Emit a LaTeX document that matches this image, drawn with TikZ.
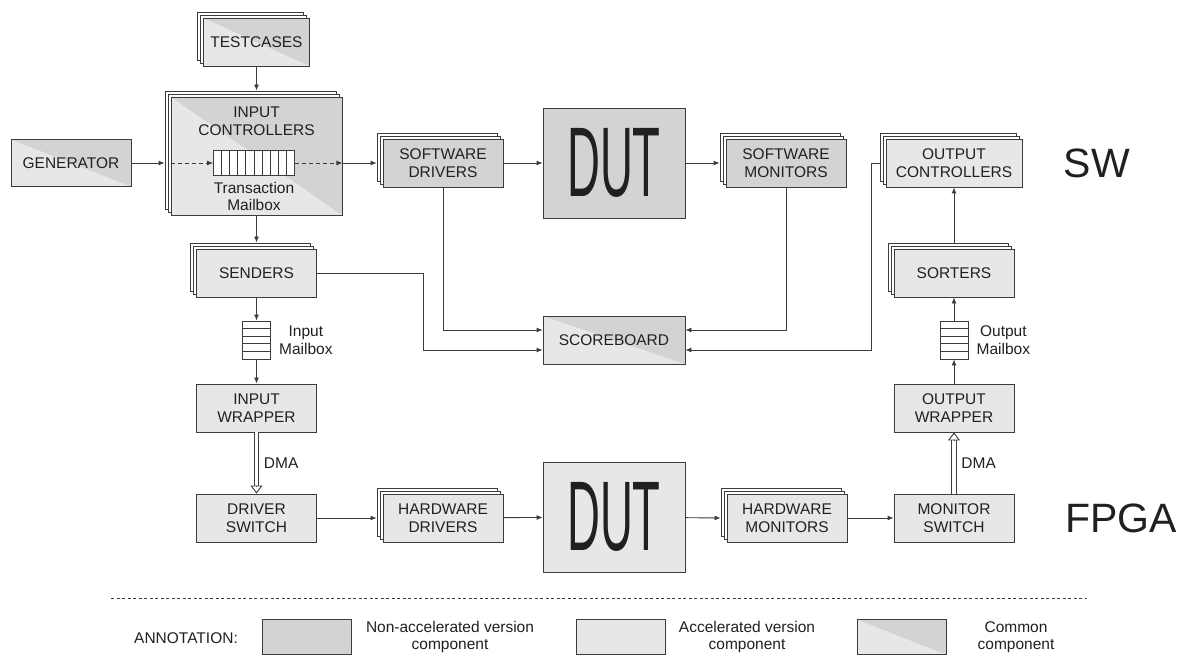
\documentclass[tikz,border=0pt]{standalone}
\usepackage{fontspec}
\setmainfont{Liberation Sans}
\usepackage{graphicx}
\usetikzlibrary{arrows.meta,positioning,calc,shadows}
\definecolor{nacc}{RGB}{209,211,212}
\definecolor{acc}{RGB}{230,231,232}
\definecolor{edge}{RGB}{60,60,60}
\definecolor{ink}{RGB}{35,31,32}
\newcommand{\boxfont}{\fontsize{15.5}{17.5}\selectfont}
\newcommand{\dutfont}{\fontsize{99}{99}\selectfont}
\newcommand{\bigfont}{\fontsize{41}{41}\selectfont}

\begin{document}
\begin{tikzpicture}[x=1pt, y=-1pt, >={Latex[length=6pt,width=5pt]},
    every node/.style={text=ink},
    box/.style={draw=edge, line width=0.9pt, minimum width=120pt, minimum height=48pt, inner sep=0pt, align=center, font=\boxfont},
    nonacc/.style={box, fill=nacc},
    accel/.style={box, fill=acc},
    common/.style={box, fill=acc, path picture={\fill[nacc] (path picture bounding box.north west) -- (path picture bounding box.north east) -- (path picture bounding box.south east) -- cycle;}},
    stack/.style={general shadow={shadow xshift=-6pt, shadow yshift=6pt, fill=white, draw=edge, line width=0.9pt},
                  general shadow={shadow xshift=-3pt, shadow yshift=3pt, fill=white, draw=edge, line width=0.9pt}},
    hqueue/.style={draw=edge, line width=0.9pt, fill=white, minimum width=28pt, minimum height=38pt, inner sep=0pt,
        path picture={\foreach \k in {1,...,4} \draw[edge, line width=0.9pt] ($(path picture bounding box.north west)!\k/5!(path picture bounding box.south west)$) -- ($(path picture bounding box.north east)!\k/5!(path picture bounding box.south east)$);}},
    vqueue/.style={draw=edge, line width=0.9pt, fill=white, minimum width=81pt, minimum height=25pt, inner sep=0pt,
        path picture={\foreach \k in {1,...,9} \draw[edge, line width=0.9pt] ($(path picture bounding box.north west)!\k/10!(path picture bounding box.north east)$) -- ($(path picture bounding box.south west)!\k/10!(path picture bounding box.south east)$);}},
    txt/.style={font=\boxfont, align=center, inner sep=0pt},
    link/.style={draw=edge, line width=0.9pt},
    dmashaft/.style={draw=edge, line width=0.9pt, double=white, double distance=3.5pt, shorten >=8pt},
    dmahead/.style={draw=edge, line width=0.9pt, -{Triangle[open, length=8pt, width=12pt]}},
    legendbox/.style={minimum width=89pt, minimum height=35pt}]
    \useasboundingbox (0,0) rectangle (1189,655);

    % software side
    \node[common, stack, minimum width=106pt] (testcases) at (256.5,42) {TESTCASES};
    \node[common, stack, minimum width=171pt, minimum height=118pt] (inctrl) at (256.5,156) {};
    \node[txt, below=10.5pt of inctrl.north] (inctrltxt) {INPUT\\CONTROLLERS};
    \node[vqueue] (tmbox) at (254,163) {};
    \node[txt, below=6pt of tmbox] (tmboxtxt) {Transaction\\Mailbox};
    \node[common, minimum height=47pt] (gen) at (71,163) {GENERATOR};
    \node[nonacc, stack] (swdrv) at (443,163) {SOFTWARE\\DRIVERS};
    \node[nonacc, minimum width=142pt, minimum height=110pt, font=\dutfont] (swdut) at (614,163) {\scalebox{0.46}[1]{DUT}};
    \node[nonacc, stack] (swmon) at (786,163) {SOFTWARE\\MONITORS};
    \node[accel, stack, minimum width=136pt] (outctrl) at (954,163) {OUTPUT\\CONTROLLERS};
    \node[font=\bigfont, inner sep=0pt] (swlbl) at (1097,163) {SW};

    \node[accel, stack] (senders) at (256.5,273) {SENDERS};
    \node[accel, stack] (sorters) at (954,273) {SORTERS};
    \node[hqueue] (inmbox) at (256.5,340) {};
    \node[txt, right=8pt of inmbox] (inmboxtxt) {Input\\Mailbox};
    \node[hqueue] (outmbox) at (954,340) {};
    \node[txt, right=8pt of outmbox] (outmboxtxt) {Output\\Mailbox};
    \node[common, minimum width=142pt] (score) at (614,340) {SCOREBOARD};

    % hardware side
    \node[accel] (inwrap) at (256.5,408) {INPUT\\WRAPPER};
    \node[accel] (outwrap) at (954,408) {OUTPUT\\WRAPPER};
    \node[accel] (drvsw) at (256.5,518) {DRIVER\\SWITCH};
    \node[accel, stack] (hwdrv) at (443,518) {HARDWARE\\DRIVERS};
    \node[accel, minimum width=142pt, minimum height=110pt, font=\dutfont] (hwdut) at (614,517) {\scalebox{0.46}[1]{DUT}};
    \node[accel, stack] (hwmon) at (787,518) {HARDWARE\\MONITORS};
    \node[accel] (monsw) at (954,518) {MONITOR\\SWITCH};
    \node[font=\bigfont, inner sep=0pt] (fpgalbl) at (1121,518) {FPGA};

    % connections
    \draw[link,->] (testcases) -- ([yshift=6pt]inctrl.north);
    \draw[link,->] (gen) -- ($(gen.east -| inctrl.west)+(-6,0)$);
    \draw[link,->,dash pattern=on 4pt off 3pt] (gen.east -| inctrl.west) -- (tmbox);
    \draw[link,->,dash pattern=on 4pt off 3pt] (tmbox) -- (tmbox.east -| inctrl.east);
    \draw[link,->] (tmbox.east -| inctrl.east) -- ([xshift=-6pt]swdrv.west);
    \draw[link,->] (swdrv) -- (swdut);
    \draw[link,->] (swdut) -- ([xshift=-6pt]swmon.west);
    \draw[link,->] (inctrl) -- ([yshift=6pt]senders.north);
    \draw[link,->] (senders) -- (inmbox);
    \draw[link,->] (inmbox) -- (inwrap);
    \draw[link,->] (senders.east) -- ++(106,0) |- ([yshift=-10pt]score.west);
    \draw[link,->] (swdrv) |- ([yshift=10pt]score.west);
    \draw[link,->] (swmon) |- ([yshift=10pt]score.east);
    \draw[link,->] ([xshift=-6pt]outctrl.west) -- ++(-8,0) |- ([yshift=-10pt]score.east);
    \draw[dmashaft] (inwrap) -- node[txt, right=7pt] (dmain) {DMA} (drvsw);
    \draw[dmahead] ([yshift=8pt]drvsw.north) -- (drvsw.north);
    \draw[link,->] (drvsw) -- ([xshift=-6pt]hwdrv.west);
    \draw[link,->] (hwdrv) -- (hwdut);
    \draw[link,->] (hwdut) -- ([xshift=-6pt]hwmon.west);
    \draw[link,->] (hwmon) -- (monsw);
    \draw[dmashaft] (monsw) -- node[txt, right=7pt] (dmaout) {DMA} (outwrap);
    \draw[dmahead] ([yshift=-8pt]outwrap.south) -- (outwrap.south);
    \draw[link,->] (outwrap) -- (outmbox);
    \draw[link,->] (outmbox) -- (sorters);
    \draw[link,->] ([yshift=6pt]sorters.north) -- (outctrl);

    % annotation
    \coordinate (sepl) at (111,598);
    \coordinate (sepr) at (1087,598);
    \draw[edge, line width=0.6pt, dash pattern=on 3pt off 2.5pt] (sepl) -- (sepr);
    \node[txt] (annot) at (186,638) {ANNOTATION:};
    \node[nonacc, legendbox] (lgnacc) at (306.5,637) {};
    \node[txt] (lgnacctxt) at (450,637) {Non-accelerated version\\component};
    \node[accel, legendbox] (lgacc) at (621,637) {};
    \node[txt] (lgacctxt) at (747,637) {Accelerated version\\component};
    \node[common, legendbox] (lgcom) at (901.5,637) {};
    \node[txt] (lgcomtxt) at (1016,637) {Common\\component};
\end{tikzpicture}
\end{document}
